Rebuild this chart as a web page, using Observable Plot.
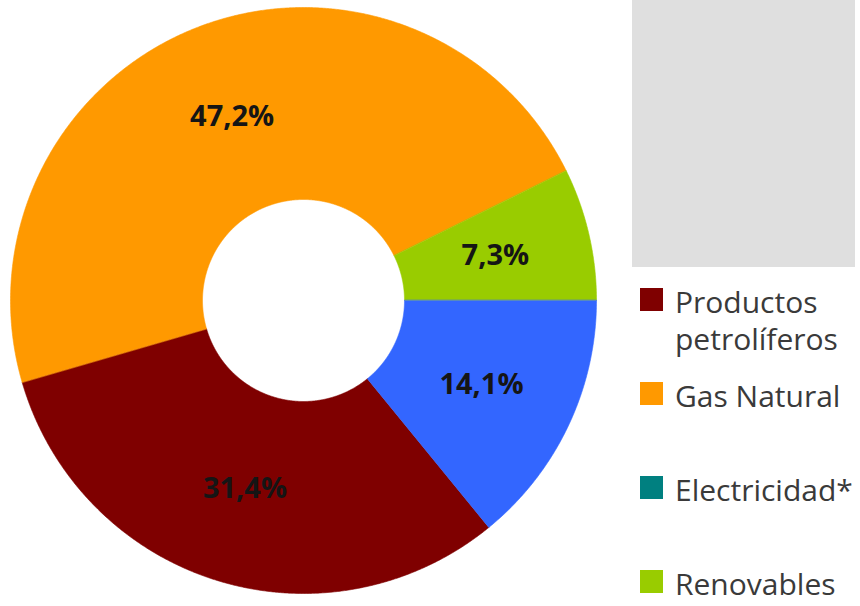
<!DOCTYPE html>
<html>
<head>
<meta charset="utf-8">
<script src="https://cdn.jsdelivr.net/npm/d3@7"></script>
<script src="https://cdn.jsdelivr.net/npm/@observablehq/plot@0.6"></script>
<style>
  html, body { margin: 0; padding: 0; background: #fff; }
  #wrap { position: relative; width: 860px; height: 606px; overflow: hidden; }
  #wrap svg { position: absolute; left: 0; top: 0; }
  #graybox { position: absolute; left: 632px; top: 0; width: 223px; height: 267px; background: #dfdfdf; }
  #legend { position: absolute; left: 640px; top: 285px; font-family: "Open Sans", sans-serif; font-size: 30px; line-height: 33px; color: #3a3a3a; }
  .item { position: relative; height: 94px; padding-left: 35px; }
  .line + .line { margin-top: 4px; }
  .sw { position: absolute; left: 0; top: 3px; width: 23px; height: 23px; }
</style>
</head>
<body>
<div id="wrap">
  <div id="graybox"></div>
  <div id="legend"></div>
</div>
<script>
// Data (legend order), plus the unlabelled blue slice
const categories = ["Productos petrolíferos", "Gas Natural", "Electricidad*", "Renovables", "Otros"];
const values = [31.4, 47.2, 0, 7.3, 14.1];
const labels = ["31,4%", "47,2%", "", "7,3%", "14,1%"];
const colors = ["#7f0000", "#ff9900", "#008080", "#99cc00", "#3366ff"];
const legendNames = [["Productos", "petrolíferos"], ["Gas Natural"], ["Electricidad*"], ["Renovables"]];

const rows = categories.map((name, i) => ({name, value: values[i], label: labels[i]}));
const total = d3.sum(values);
const start = Math.PI / 2 + (values[4] / total) * 2 * Math.PI;
const arcs = d3.pie().sort(null).value(d => d.value).startAngle(start).endAngle(start + 2 * Math.PI)(rows);

const inner = 101 / 293;
const poly = [];
for (const a of arcs) {
  if (a.data.value <= 0) continue;
  const n = Math.max(4, Math.ceil((a.endAngle - a.startAngle) / 0.005));
  for (let k = 0; k <= n; k++) {
    const t = a.startAngle + (a.endAngle - a.startAngle) * k / n;
    poly.push({name: a.data.name, x: Math.sin(t), y: Math.cos(t)});
  }
  for (let k = n; k >= 0; k--) {
    const t = a.startAngle + (a.endAngle - a.startAngle) * k / n;
    poly.push({name: a.data.name, x: inner * Math.sin(t), y: inner * Math.cos(t)});
  }
}
const rMid = (1 + inner) / 2;
const textData = arcs.filter(a => a.data.value > 0).map(a => {
  const m = (a.startAngle + a.endAngle) / 2;
  return {x: rMid * Math.sin(m), y: rMid * Math.cos(m), label: a.data.label};
});

const cx = 303, cy = 300, R = 293;
const chart = Plot.plot({
  width: 860,
  height: 606,
  margin: 0,
  x: {domain: [-1, 1], range: [cx - R, cx + R], axis: null},
  y: {domain: [-1, 1], range: [cy + R, cy - R], axis: null},
  color: {domain: categories, range: colors},
  marks: [
    Plot.line(poly, {x: "x", y: "y", z: "name", fill: "name", stroke: "name", strokeWidth: 0.6, curve: "linear-closed"}),
    Plot.text(textData, {x: "x", y: "y", text: "label", fontSize: 29, fontWeight: "bold", fontFamily: "Open Sans", fill: "#151515"})
  ]
});
document.getElementById("wrap").prepend(chart);

const legend = document.getElementById("legend");
legendNames.forEach((lines, i) => {
  const item = document.createElement("div");
  item.className = "item";
  const sw = document.createElement("div");
  sw.className = "sw";
  sw.style.background = colors[i];
  item.appendChild(sw);
  lines.forEach(t => {
    const l = document.createElement("div");
    l.className = "line";
    l.textContent = t;
    item.appendChild(l);
  });
  legend.appendChild(item);
});
</script>
</body>
</html>
